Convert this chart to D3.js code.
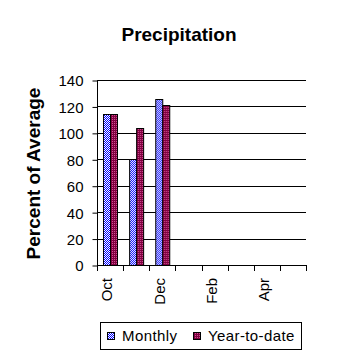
<!DOCTYPE html>
<html>
<head>
<meta charset="utf-8">
<script src="https://cdn.jsdelivr.net/npm/d3@7"></script>
<style>
  html, body { margin: 0; padding: 0; background: #fff; }
  svg { display: block; }
  text { font-family: "Liberation Sans", Arial, sans-serif; fill: #000; }
</style>
</head>
<body>
<svg id="chart" width="358" height="358"></svg>
<script>
const months = ["Oct", "Nov", "Dec", "Jan", "Feb", "Mar", "Apr", "May"];
const monthLabels = ["Oct", "", "Dec", "", "Feb", "", "Apr", ""];
const series = ["Monthly", "Year-to-date"];
const monthly = [114, 80, 126, null, null, null, null, null];
const yearToDate = [114, 104, 121, null, null, null, null, null];
const yTicks = [0, 20, 40, 60, 80, 100, 120, 140];

const svg = d3.select("#chart");
const mLeft = 97, mRight = 306, mTop = 80, mBottom = 265;

const defs = svg.append("defs");
const p1 = defs.append("pattern").attr("id", "patMonthly")
  .attr("patternUnits", "userSpaceOnUse").attr("width", 2).attr("height", 2);
p1.append("rect").attr("width", 2).attr("height", 2).attr("fill", "#ffffff");
p1.append("rect").attr("x", 0).attr("y", 0).attr("width", 1).attr("height", 1).attr("fill", "#0000ff");
p1.append("rect").attr("x", 1).attr("y", 1).attr("width", 1).attr("height", 1).attr("fill", "#0000ff");
const p2 = defs.append("pattern").attr("id", "patYtd")
  .attr("patternUnits", "userSpaceOnUse").attr("width", 2).attr("height", 2);
p2.append("rect").attr("width", 2).attr("height", 2).attr("fill", "#800040");
p2.append("rect").attr("x", 1).attr("y", 1).attr("width", 1).attr("height", 1).attr("fill", "#d05090");
const fills = ["url(#patMonthly)", "url(#patYtd)"];

const x0 = d3.scaleBand().domain(months).range([mLeft, mRight]).paddingInner(0).paddingOuter(0);
const x1 = d3.scaleBand().domain(series).range([0, x0.bandwidth()]).paddingInner(0).paddingOuter(0.75);
const y = d3.scaleLinear().domain([0, 140]).range([mBottom, mTop]);

// gridlines
svg.append("g").selectAll("line").data(yTicks.filter(d => d > 0)).join("line")
  .attr("x1", mLeft).attr("x2", mRight)
  .attr("y1", d => Math.round(y(d)) + 0.5).attr("y2", d => Math.round(y(d)) + 0.5)
  .attr("stroke", "#000").attr("stroke-width", 1);

// bars
const data = months.map((m, i) => ({ m, vals: [monthly[i], yearToDate[i]] }));
const groups = svg.append("g").selectAll("g").data(data).join("g")
  .attr("transform", d => `translate(${x0(d.m)},0)`);
groups.selectAll("rect").data(d => d.vals.map((v, j) => ({ v, s: series[j], j })).filter(e => e.v != null))
  .join("rect")
  .attr("x", e => Math.round(x1(e.s)) + 0.5)
  .attr("width", e => Math.round(x1.bandwidth()))
  .attr("y", e => Math.round(y(e.v)) + 0.5)
  .attr("height", e => Math.round(y(0)) - Math.round(y(e.v)))
  .attr("fill", e => fills[e.j])
  .attr("stroke", "#000").attr("stroke-width", 1);

// y axis
const yAxis = d3.axisLeft(y).tickValues(yTicks).tickSize(5).tickPadding(9);
const gy = svg.append("g").attr("transform", `translate(${mLeft + 0.5},0.5)`).call(yAxis);
gy.select(".domain").attr("stroke", "#000").attr("d", `M0,${mTop}V${mBottom}`);
gy.selectAll(".tick line").attr("stroke", "#000");
gy.selectAll("text").style("font-size", "15px").style("font-family", "Liberation Sans, Arial, sans-serif")
  .attr("fill", "#000").attr("dy", "0.36em");

// x axis baseline and boundary ticks
const gx = svg.append("g");
gx.append("line").attr("x1", mLeft).attr("x2", mRight)
  .attr("y1", mBottom + 0.5).attr("y2", mBottom + 0.5).attr("stroke", "#000");
const bounds = months.map(m => x0(m)).concat([x0.range()[1]]);
gx.selectAll("line.tk").data(bounds).join("line").attr("class", "tk")
  .attr("x1", d => Math.round(d) + 0.5).attr("x2", d => Math.round(d) + 0.5)
  .attr("y1", mBottom).attr("y2", mBottom + 6).attr("stroke", "#000");

const xAxis = d3.axisBottom(x0).tickSize(0).tickFormat((d, i) => monthLabels[i]);
const gxl = svg.append("g").attr("transform", `translate(0,${mBottom})`).call(xAxis);
gxl.select(".domain").remove();
gxl.selectAll("text")
  .style("font-size", "15px").style("font-family", "Liberation Sans, Arial, sans-serif")
  .attr("fill", "#000")
  .attr("text-anchor", "end")
  .attr("transform", "rotate(-90)")
  .attr("x", -13).attr("y", -3).attr("dy", "0.36em");

// titles
svg.append("text").attr("x", 179).attr("y", 41).attr("text-anchor", "middle")
  .style("font-size", "19px").style("font-weight", "bold").text("Precipitation");
svg.append("text").attr("transform", `translate(40,${(mTop + mBottom) / 2 + 1}) rotate(-90)`)
  .attr("text-anchor", "middle")
  .style("font-size", "19px").style("font-weight", "bold").text("Percent of Average");

// legend
const lg = svg.append("g");
lg.append("rect").attr("x", 100.5).attr("y", 322.5).attr("width", 201).attr("height", 27)
  .attr("fill", "#fff").attr("stroke", "#000");
const legendX = [107, 193];
series.forEach((s, i) => {
  lg.append("rect").attr("x", legendX[i] + 0.5).attr("y", 332.5).attr("width", 7).attr("height", 7)
    .attr("fill", fills[i]).attr("stroke", "#000");
  lg.append("text").attr("x", legendX[i] + 15).attr("y", 341)
    .style("font-size", "15px").style("letter-spacing", "0.4px").text(s);
});
</script>
</body>
</html>
